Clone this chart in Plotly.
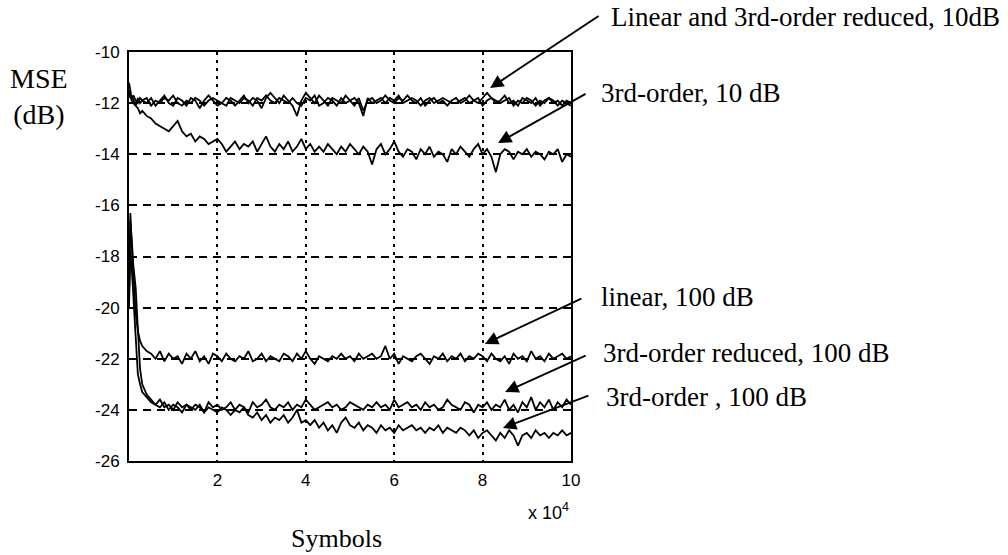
import numpy as np
import plotly.graph_objects as go

# Sample positions in units of 10^4 symbols (dense at the start for the transient)
X_EARLY = [0.0, 0.03, 0.06, 0.1, 0.15, 0.2, 0.25, 0.3]
X_STEADY = list(np.round(np.arange(0.4, 10.001, 0.1), 1))
SYMBOLS = X_EARLY + X_STEADY

# MSE curves in dB
LIN_10 = [
    -11.2, -11.6, -11.8, -11.7, -11.9, -12.0, -11.8, -11.9,
    -12.0, -11.8, -12.1, -11.9, -11.7, -12.0, -12.1, -11.8, -11.9, -12.1,
    -11.8, -11.9, -12.2, -11.9, -11.7, -11.9, -12.1, -12.0, -11.8, -11.9,
    -12.1, -11.9, -11.7, -12.0, -11.8, -11.9, -12.2, -11.8, -11.6, -11.8,
    -12.0, -11.7, -11.9, -12.1, -12.5, -11.9, -11.6, -11.8, -12.0, -11.7,
    -11.9, -12.1, -11.8, -11.9, -12.0, -11.7, -11.9, -12.1, -11.8, -12.3,
    -11.9, -11.8, -12.0, -11.9, -11.7, -11.9, -12.0, -11.8, -11.9, -11.7,
    -11.9, -12.0, -11.8, -12.1, -11.9, -11.8, -12.0, -11.9, -12.1, -11.9,
    -11.8, -12.0, -11.9, -11.7, -11.9, -12.0, -11.8, -11.6, -11.8, -12.0,
    -11.9, -11.7, -12.0, -11.9, -12.1, -11.8, -11.9, -12.0, -11.8, -12.1,
    -11.9, -11.8, -12.0, -11.9, -12.1, -11.9, -12.0,
]
RED_10 = [
    -11.5, -11.8, -11.7, -11.9, -12.1, -11.8, -12.0, -11.9,
    -11.8, -12.1, -11.9, -12.0, -11.8, -11.9, -11.7, -12.0, -12.1, -11.9,
    -12.0, -11.8, -11.9, -12.1, -11.9, -11.8, -11.9, -12.0, -12.1, -11.8,
    -11.9, -12.0, -11.8, -11.9, -12.1, -11.8, -11.9, -11.7, -11.9, -12.0,
    -11.8, -11.9, -12.0, -11.8, -12.0, -12.1, -11.8, -11.9, -11.7, -12.1,
    -12.0, -11.8, -11.9, -12.1, -11.8, -12.0, -11.9, -11.8, -12.0, -12.5,
    -11.8, -12.0, -11.9, -11.8, -12.0, -11.8, -11.9, -11.7, -12.0, -11.9,
    -11.8, -11.9, -12.1, -11.9, -11.8, -12.0, -11.9, -11.8, -11.9, -12.0,
    -12.0, -11.9, -11.8, -12.0, -11.9, -11.8, -12.1, -11.9, -11.8, -11.9,
    -12.0, -11.9, -11.8, -12.1, -11.9, -12.0, -11.8, -11.9, -12.1, -11.9,
    -12.0, -11.8, -11.9, -12.1, -11.9, -12.0, -12.1,
]
THIRD_10 = [
    -11.5, -11.7, -11.9, -12.0, -12.1, -12.2, -12.4, -12.3,
    -12.5, -12.6, -12.8, -12.9, -13.0, -13.1, -12.9, -12.7, -13.1, -13.3,
    -13.2, -13.5, -13.3, -13.4, -13.6, -13.5, -13.4, -13.6, -13.9, -13.7,
    -13.5, -13.8, -13.6, -13.7, -13.5, -13.9, -13.6, -13.3, -13.7, -13.9,
    -13.6, -13.8, -13.5, -13.9, -13.7, -13.4, -13.8, -13.6, -13.9, -13.7,
    -13.9, -13.6, -13.8, -14.0, -13.7, -13.9, -13.6, -13.8, -14.0, -13.7,
    -13.9, -14.4, -13.8, -13.6, -14.0, -13.8, -13.5, -13.9, -14.1, -13.8,
    -13.9, -14.2, -13.8, -14.0, -13.7, -14.1, -13.9, -14.0, -14.3, -13.8,
    -14.0, -13.7, -13.9, -14.1, -13.8, -13.6, -14.0, -13.8, -14.1, -14.7,
    -14.0, -13.8, -13.9, -14.2, -13.9, -14.0, -13.8, -14.1, -13.9, -14.0,
    -14.2, -13.9, -14.0, -13.8, -14.3, -14.0, -14.1,
]
LIN_100 = [
    -19.8, -16.3, -17.5, -18.6, -20.2, -20.9, -21.3, -21.5,
    -21.7, -21.8, -22.0, -21.7, -22.1, -21.8, -22.0, -21.9, -22.2, -21.8,
    -22.0, -21.7, -22.1, -21.9, -22.2, -21.8, -21.9, -22.1, -21.8, -22.0,
    -22.1, -21.9, -22.0, -21.7, -22.1, -22.0, -21.8, -22.1, -21.9, -22.0,
    -22.1, -21.8, -21.9, -22.1, -21.8, -22.0, -21.7, -22.0, -22.2, -21.9,
    -22.0, -22.1, -21.9, -22.0, -21.8, -22.0, -21.9, -22.1, -21.8, -22.0,
    -21.9, -21.8, -22.0, -21.9, -21.5, -22.0, -21.8, -22.2, -21.9, -22.0,
    -22.1, -21.9, -21.8, -22.0, -22.2, -21.9, -22.0, -21.8, -22.1, -21.9,
    -22.0, -21.8, -22.1, -21.9, -22.0, -21.8, -21.9, -22.1, -21.8, -22.0,
    -22.1, -21.9, -22.2, -21.8, -22.0, -21.9, -22.1, -21.7, -22.0, -21.9,
    -22.1, -21.8, -22.0, -21.9, -21.8, -22.0, -21.9,
]
RED_100 = [
    -20.0, -17.8, -18.4, -19.6, -21.5, -22.6, -23.0, -23.3,
    -23.5, -23.7, -23.8, -23.6, -23.9, -23.8, -24.0, -23.7, -23.9, -23.8,
    -24.0, -23.8, -23.9, -24.1, -23.7, -23.9, -23.8, -24.0, -23.9, -23.7,
    -24.0, -23.8, -23.9, -24.1, -23.7, -23.9, -23.8, -23.6, -23.9, -24.0,
    -23.8, -23.9, -23.7, -24.0, -23.8, -23.9, -23.6, -23.8, -24.0, -23.9,
    -23.8, -23.7, -23.9, -23.8, -24.0, -23.9, -23.7, -23.8, -23.9, -24.0,
    -23.8, -23.9, -23.7, -23.9, -23.8, -24.0, -23.6, -23.9, -23.8, -23.7,
    -23.9, -23.8, -24.0, -23.7, -23.9, -23.8, -24.0, -23.9, -23.6, -23.8,
    -23.9, -24.0, -23.7, -23.8, -24.1, -23.8, -23.9, -23.7, -24.0, -23.8,
    -23.9, -23.6, -24.0, -23.8, -24.1, -23.7, -23.9, -23.5, -24.0, -23.7,
    -23.9, -23.6, -24.0, -23.7, -23.9, -23.6, -23.8,
]
THIRD_100 = [
    -19.5, -16.6, -17.3, -18.4, -19.2, -21.0, -22.4, -23.0,
    -23.4, -23.6, -23.8, -23.9, -23.7, -24.0, -23.8, -23.9, -24.1, -23.8,
    -23.9, -24.0, -23.8, -24.1, -23.9, -24.0, -24.1, -23.9, -24.0, -24.2,
    -24.0, -24.1, -23.9, -24.2, -24.3, -24.1, -24.4, -24.2, -24.5, -24.3,
    -24.4, -24.2, -24.5, -24.3, -24.0, -24.5, -24.4, -24.6, -24.4, -24.7,
    -24.5, -24.8, -24.6, -24.9, -24.5, -24.3, -24.6, -24.7, -24.5, -24.8,
    -24.6, -24.7, -24.9, -24.6, -24.8, -24.7, -24.9, -24.6, -24.8, -24.7,
    -24.6, -24.8, -24.7, -24.9, -24.7, -24.8, -24.6, -24.9, -24.7, -24.8,
    -24.9, -24.7, -24.8, -25.0, -24.8, -25.1, -24.9, -24.8, -25.0, -25.2,
    -24.9, -25.1, -24.8, -25.0, -25.4, -25.0, -24.9, -25.1, -24.8, -25.0,
    -24.9, -25.1, -24.9, -25.0, -24.8, -25.0, -24.9,
]

X_TICKS = [2, 4, 6, 8, 10]
Y_TICKS = [-26, -24, -22, -20, -18, -16, -14, -12, -10]
Y_TICK_TEXT = ["-26", "-24", "-22", "-20", "-18", "-16", "-14", "-12", "-10"]

# Curve labels with arrow targets (symbol position, MSE) and tail offsets in px
LABELS = [
    ("Linear and 3rd-order reduced, 10dB", 8.17, -11.41, 110, -73, 609, 17),
    ("3rd-order, 10 dB", 8.35, -13.56, 89, -50, 599, 93),
    ("linear, 100 dB", 8.05, -21.42, 98, -46, 599, 297),
    ("3rd-order reduced, 100 dB", 8.51, -23.30, 82, -37, 601, 353),
    ("3rd-order , 100 dB", 8.46, -24.71, 87, -33, 604, 397),
]

W, H = 1008, 555
L, R, T, B = 129, 571, 52, 461

fig = go.Figure()
for series in [LIN_10, RED_10, THIRD_10, LIN_100, RED_100, THIRD_100]:
    fig.add_trace(go.Scatter(
        x=SYMBOLS, y=series, mode="lines",
        line=dict(color="black", width=1.8),
        showlegend=False, hoverinfo="skip",
    ))

serif = "Liberation Serif, Times New Roman, serif"
sans = "Liberation Sans, Arial, sans-serif"

annotations = []
for text, hx, hy, ax, ay, tx, ty in LABELS:
    annotations.append(dict(
        x=hx, y=hy, xref="x", yref="y", ax=ax, ay=ay, axref="pixel", ayref="pixel",
        text="", showarrow=True, arrowhead=2, arrowsize=1.4, arrowwidth=1.9,
        arrowcolor="black",
    ))
    annotations.append(dict(
        x=(tx - L) / (R - L), y=(B - ty) / (B - T), xref="paper", yref="paper",
        text=text, showarrow=False, xanchor="left", yanchor="middle",
        font=dict(family=serif, size=27, color="black"),
    ))

annotations.append(dict(
    x=(39 - L) / (R - L), y=(B - 96) / (B - T), xref="paper", yref="paper",
    text="MSE<br>(dB)", showarrow=False, xanchor="center", yanchor="middle",
    align="center", font=dict(family=serif, size=28, color="black"),
))
annotations.append(dict(
    x=(336 - L) / (R - L), y=(B - 538) / (B - T), xref="paper", yref="paper",
    text="Symbols", showarrow=False, xanchor="center", yanchor="middle",
    font=dict(family=serif, size=26, color="black"),
))
annotations.append(dict(
    x=1.0, y=(B - 511) / (B - T), xref="paper", yref="paper",
    text="x 10<sup>4</sup>", showarrow=False, xanchor="right", yanchor="middle",
    font=dict(family=sans, size=18, color="black"),
))

fig.update_layout(
    width=W, height=H,
    margin=dict(l=L, r=W - R, t=T, b=H - B),
    paper_bgcolor="white", plot_bgcolor="white",
    annotations=annotations,
    xaxis=dict(
        range=[0, 10], tickvals=X_TICKS, ticktext=[str(v) for v in X_TICKS],
        showgrid=True, gridcolor="black", gridwidth=1.6, griddash="3px,5px",
        showline=True, linecolor="black", linewidth=2, mirror=True,
        ticks="", zeroline=False, ticklabelstandoff=3,
        tickfont=dict(family=sans, size=17, color="black"),
    ),
    yaxis=dict(
        range=[-26, -10], tickvals=Y_TICKS, ticktext=Y_TICK_TEXT,
        showgrid=True, gridcolor="black", gridwidth=1.6, griddash="8px,6px",
        showline=True, linecolor="black", linewidth=2, mirror=True,
        ticks="", zeroline=False, ticklabelstandoff=4,
        tickfont=dict(family=sans, size=17, color="black"),
    ),
)

fig.write_html("out.html")
